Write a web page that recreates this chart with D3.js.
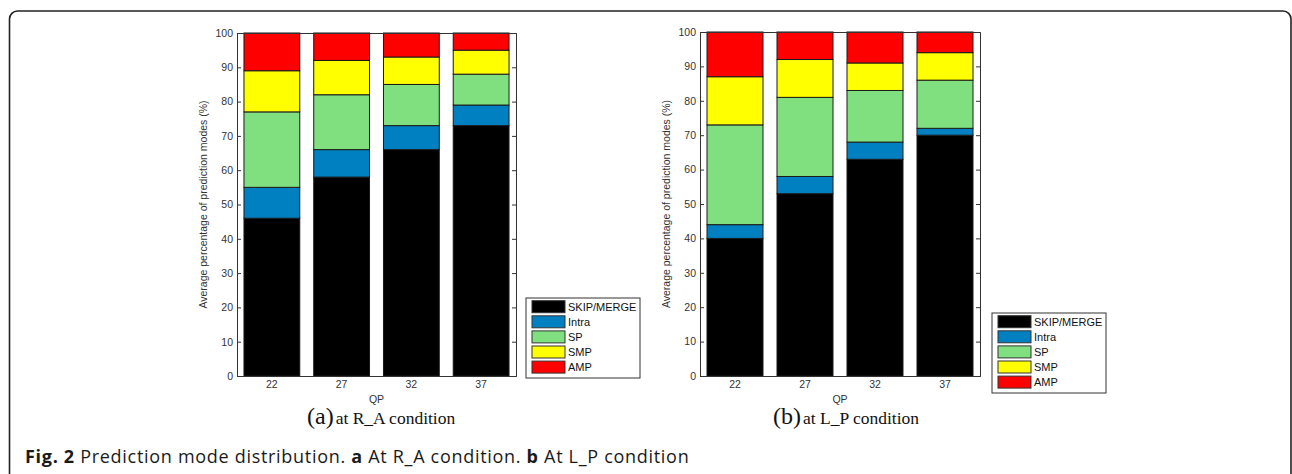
<!DOCTYPE html>
<html>
<head>
<meta charset="utf-8">
<script src="https://cdn.jsdelivr.net/npm/d3@7"></script>
<style>
  body { margin: 0; background: #fff; }
  svg { display: block; }
</style>
</head>
<body>
<div id="chart"></div>
<script>
// Categories and legend entries
const qpLabels = ["22", "27", "32", "37"];
const modeNames = ["SKIP/MERGE", "Intra", "SP", "SMP", "AMP"];
const modeColors = ["#000000", "#0080c0", "#80e080", "#ffff00", "#ff0000"];
const yTicks = [0, 10, 20, 30, 40, 50, 60, 70, 80, 90, 100];

// (a) R_A condition, percentage of each mode per QP
const raSkipMerge = [46, 58, 66, 73];
const raIntra = [9, 8, 7, 6];
const raSp = [22, 16, 12, 9];
const raSmp = [12, 10, 8, 7];
const raAmp = [11, 8, 7, 5];

// (b) L_P condition
const lpSkipMerge = [40, 53, 63, 70];
const lpIntra = [4, 5, 5, 2];
const lpSp = [29, 23, 15, 14];
const lpSmp = [14, 11, 8, 8];
const lpAmp = [13, 8, 9, 6];

const W = 1292, H = 474;
const axisColor = "#333";
const tickFont = "Liberation Sans, Arial, sans-serif";

const svg = d3.select("#chart")
    .append("svg")
    .attr("width", W)
    .attr("height", H);

// Figure frame (rounded box, open at the bottom)
svg.append("rect")
    .attr("x", 9.5)
    .attr("y", 11)
    .attr("width", 1281.5)
    .attr("height", 520)
    .attr("rx", 8)
    .attr("fill", "none")
    .attr("stroke", "#222")
    .attr("stroke-width", 1.6);

function buildTable(series) {
    return qpLabels.map((qp, i) => {
        const row = { qp };
        modeNames.forEach((m, j) => { row[m] = series[j][i]; });
        return row;
    });
}

function drawPanel(opts) {
    const g = svg.append("g");
    const table = buildTable(opts.series);

    const x = d3.scaleBand()
        .domain(qpLabels)
        .range([opts.left, opts.right])
        .paddingInner(0.2)
        .paddingOuter(0.1);

    const y = d3.scaleLinear()
        .domain([0, 100])
        .range([opts.bottom, opts.top]);

    const stacked = d3.stack().keys(modeNames)(table);

    // Bars
    g.selectAll(".layer")
        .data(stacked)
        .enter()
        .append("g")
        .attr("fill", (d, i) => modeColors[i])
        .selectAll("rect")
        .data(d => d)
        .enter()
        .append("rect")
        .attr("x", d => x(d.data.qp))
        .attr("y", d => y(d[1]))
        .attr("width", x.bandwidth())
        .attr("height", d => y(d[0]) - y(d[1]))
        .attr("stroke", "#1a1a1a")
        .attr("stroke-width", 1);

    // Axes (matlab style box with inward ticks)
    const left = g.append("g")
        .attr("transform", `translate(${opts.left},0)`)
        .call(d3.axisLeft(y).tickValues(yTicks).tickSize(-4).tickPadding(4));
    const right = g.append("g")
        .attr("transform", `translate(${opts.right},0)`)
        .call(d3.axisRight(y).tickValues(yTicks).tickSize(-4).tickFormat(""));
    const bottom = g.append("g")
        .attr("transform", `translate(0,${opts.bottom})`)
        .call(d3.axisBottom(x).tickSize(0).tickPadding(5));
    const top = g.append("g")
        .attr("transform", `translate(0,${opts.top})`)
        .call(d3.axisTop(x).tickSize(0).tickFormat(""));

    [left, right, bottom, top].forEach(a => {
        a.select(".domain").attr("stroke", axisColor).attr("stroke-width", 1);
        a.selectAll(".tick line").attr("stroke", axisColor);
        a.selectAll("text")
            .attr("fill", axisColor)
            .style("font-family", tickFont)
            .style("font-size", "10.5px");
    });

    // Axis titles
    g.append("text")
        .attr("x", (opts.left + opts.right) / 2)
        .attr("y", opts.bottom + 27)
        .attr("text-anchor", "middle")
        .attr("fill", axisColor)
        .style("font-family", tickFont)
        .style("font-size", "10.5px")
        .text("QP");

    g.append("text")
        .attr("transform", "rotate(-90)")
        .attr("x", -(opts.top + opts.bottom) / 2)
        .attr("y", opts.left - 30)
        .attr("text-anchor", "middle")
        .attr("fill", axisColor)
        .style("font-family", tickFont)
        .style("font-size", "10.5px")
        .text("Average percentage of prediction modes (%)");

    // Legend
    const legend = g.append("g")
        .attr("transform", `translate(${opts.legendX},${opts.legendY})`);

    legend.append("rect")
        .attr("width", 114)
        .attr("height", 80)
        .attr("fill", "#fff")
        .attr("stroke", axisColor)
        .attr("stroke-width", 1);

    modeNames.forEach((m, i) => {
        const row = legend.append("g")
            .attr("transform", `translate(6,${8.7 + i * 15.1})`);
        row.append("rect")
            .attr("x", 0)
            .attr("y", -6)
            .attr("width", 33)
            .attr("height", 12)
            .attr("fill", modeColors[i])
            .attr("stroke", "#333")
            .attr("stroke-width", 1);
        row.append("text")
            .attr("x", 36)
            .attr("y", 4)
            .attr("fill", "#111")
            .style("font-family", tickFont)
            .style("font-size", "11px")
            .text(m);
    });

    // Sub caption
    const cap = g.append("text")
        .attr("x", opts.capX)
        .attr("y", 424)
        .attr("fill", "#111")
        .style("font-family", "Liberation Serif, Times New Roman, serif");
    cap.append("tspan")
        .style("font-size", "24px")
        .text(opts.capLetter);
    cap.append("tspan")
        .attr("dx", 2)
        .style("font-size", "17.5px")
        .text(opts.capText);
}

drawPanel({
    series: [raSkipMerge, raIntra, raSp, raSmp, raAmp],
    left: 237, right: 516, top: 33, bottom: 376,
    legendX: 526, legendY: 298,
    capX: 307, capLetter: "(a)", capText: "at R_A condition"
});

drawPanel({
    series: [lpSkipMerge, lpIntra, lpSp, lpSmp, lpAmp],
    left: 700, right: 980, top: 32, bottom: 376,
    legendX: 992, legendY: 313,
    capX: 773, capLetter: "(b)", capText: "at L_P condition"
});

// Figure caption
const caption = svg.append("text")
    .attr("x", 25)
    .attr("y", 463)
    .attr("fill", "#1a1a1a")
    .style("font-family", "Open Sans, sans-serif")
    .style("font-size", "18px")
    .style("letter-spacing", "0.7px");
caption.append("tspan").style("font-weight", "bold").text("Fig. 2");
caption.append("tspan").text(" Prediction mode distribution. ");
caption.append("tspan").style("font-weight", "bold").text("a");
caption.append("tspan").text(" At R_A condition. ");
caption.append("tspan").style("font-weight", "bold").text("b");
caption.append("tspan").text(" At L_P condition");
</script>
</body>
</html>
